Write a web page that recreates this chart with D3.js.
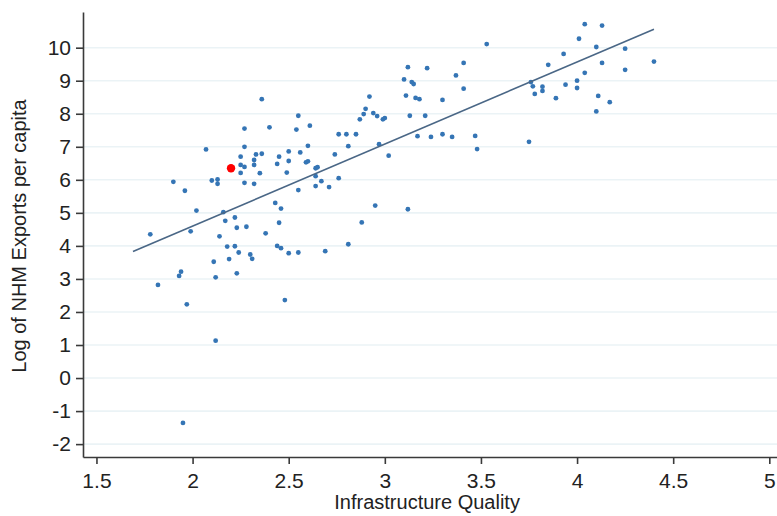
<!DOCTYPE html>
<html>
<head>
<meta charset="utf-8">
<script src="https://cdn.jsdelivr.net/npm/d3@7"></script>
<style>
  body { margin: 0; background: #fff; }
  #chart text { font-family: "Liberation Sans", Arial, sans-serif; fill: #222; }
</style>
</head>
<body>
<div id="chart"></div>
<script>
// country observations: infrastructure quality vs log NHM exports per capita
const infraQuality = [
  2.36, 2.55, 2.27, 2.40, 2.54, 2.61, 2.07, 2.27, 2.60, 2.25,
  2.33, 2.36, 2.45, 2.50, 2.56, 2.32, 2.50, 2.59, 2.60, 2.25,
  2.27, 2.32, 2.44, 2.25, 2.35, 2.49, 2.64, 2.65, 2.64, 1.90,
  2.10, 2.13, 2.13, 2.27, 2.32, 2.67, 2.64, 1.96, 2.55, 2.71,
  2.43, 2.46, 2.02, 2.16, 2.17, 2.22, 2.45, 2.23, 2.28, 1.78,
  1.99, 2.14, 2.38, 2.18, 2.22, 2.24, 2.44, 2.46, 2.50, 2.55,
  2.69, 2.19, 2.30, 2.31, 2.11, 1.94, 1.93, 2.12, 2.23, 1.82,
  1.97, 2.48, 2.12, 1.95,
  3.53, 3.12, 3.22, 3.41, 3.10, 3.14, 3.15, 3.37, 3.41, 2.92,
  3.11, 3.16, 3.18, 3.30, 2.90, 2.89, 2.87, 2.94, 2.96, 2.99,
  3.00, 3.13, 3.21, 2.76, 2.80, 2.85, 2.81, 2.97, 3.17, 3.24,
  3.30, 3.35, 3.47, 3.48, 2.74, 3.02, 2.76, 2.95, 3.12, 2.88,
  2.81,
  4.04, 4.13, 4.01, 4.10, 4.25, 3.93, 3.85, 4.13, 4.25, 4.40,
  4.04, 3.76, 3.77, 3.82, 3.82, 3.78, 3.94, 4.00, 4.00, 3.89,
  4.11, 4.17, 4.10, 3.75
];
const logExports = [
  8.44, 7.94, 7.55, 7.59, 7.52, 7.64, 6.92, 7.00, 7.03, 6.70,
  6.77, 6.79, 6.70, 6.86, 6.83, 6.60, 6.57, 6.53, 6.56, 6.45,
  6.39, 6.45, 6.48, 6.21, 6.20, 6.22, 6.35, 6.38, 6.11, 5.94,
  5.98, 6.01, 5.88, 5.91, 5.88, 5.96, 5.81, 5.67, 5.69, 5.78,
  5.30, 5.13, 5.07, 5.02, 4.76, 4.86, 4.70, 4.55, 4.58, 4.35,
  4.44, 4.29, 4.38, 3.98, 3.99, 3.80, 4.00, 3.93, 3.78, 3.80,
  3.84, 3.60, 3.74, 3.61, 3.52, 3.22, 3.09, 3.05, 3.17, 2.82,
  2.23, 2.36, 1.13, -1.36,
  10.11, 9.41, 9.38, 9.54, 9.04, 8.96, 8.90, 9.16, 8.76, 8.52,
  8.55, 8.48, 8.44, 8.42, 8.15, 7.99, 7.83, 8.02, 7.93, 7.83,
  7.87, 7.94, 7.94, 7.38, 7.38, 7.38, 7.02, 7.08, 7.32, 7.30,
  7.38, 7.30, 7.33, 6.93, 6.77, 6.73, 6.05, 5.22, 5.11, 4.71,
  4.05,
  10.71, 10.67, 10.27, 10.02, 9.97, 9.81, 9.48, 9.54, 9.33, 9.58,
  9.24, 8.96, 8.83, 8.82, 8.69, 8.60, 8.88, 9.00, 8.78, 8.47,
  8.54, 8.35, 8.07, 7.15
];
// highlighted country
const highlightX = [2.20];
const highlightY = [6.35];
// fitted line end points
const fitX = [1.69, 4.40];
const fitY = [3.83, 10.56];

const xTicks = [1.5, 2, 2.5, 3, 3.5, 4, 4.5, 5];
const yTicks = [-2, -1, 0, 1, 2, 3, 4, 5, 6, 7, 8, 9, 10];
const xLabel = "Infrastructure Quality";
const yLabel = "Log of NHM Exports per capita";

async function draw() {

//*************************1. Set up Measurement
  let dimensions = {
    width: 777,
    height: 516,
    margin: { top: 12, right: 0, bottom: 59, left: 83 }
  }
  dimensions.boundedWidth = dimensions.width - dimensions.margin.left - dimensions.margin.right
  dimensions.boundedHeight = dimensions.height - dimensions.margin.top - dimensions.margin.bottom

//*************************2. Draw Canvas
  const wrapper = d3.select("#chart")
    .append("svg")
    .attr("width", dimensions.width)
    .attr("height", dimensions.height)

  const bounds = wrapper.append("g")
    .attr("transform", `translate(${dimensions.margin.left},${dimensions.margin.top})`)

//*************************3. Data
  const dataset = infraQuality.map((x, i) => ({ x: x, y: logExports[i] }))
  const highlight = highlightX.map((x, i) => ({ x: x, y: highlightY[i] }))
  const fit = fitX.map((x, i) => ({ x: x, y: fitY[i] }))

  const xAccessor = d => d.x
  const yAccessor = d => d.y

//*************************4. Scales
  const xScale = d3.scaleLinear()
    .domain([1.43, 5.04])
    .range([0, dimensions.boundedWidth])

  const yScale = d3.scaleLinear()
    .domain([-2.39, 11.08])
    .range([dimensions.boundedHeight, 0])

//*************************5. Grid lines
  bounds.append("g")
    .selectAll("line")
    .data(yTicks)
    .join("line")
    .attr("x1", 0)
    .attr("x2", dimensions.boundedWidth)
    .attr("y1", d => yScale(d))
    .attr("y2", d => yScale(d))
    .attr("stroke", "#ebf3f6")
    .attr("stroke-width", 1.6)

//*************************6. Dots and fitted line
  bounds.append("g")
    .selectAll("circle")
    .data(dataset)
    .join("circle")
    .attr("cx", d => xScale(xAccessor(d)))
    .attr("cy", d => yScale(yAccessor(d)))
    .attr("r", 2.4)
    .attr("fill", "#3575b5")

  const lineGenerator = d3.line()
    .x(d => xScale(xAccessor(d)))
    .y(d => yScale(yAccessor(d)))

  bounds.append("path")
    .attr("d", lineGenerator(fit))
    .attr("fill", "none")
    .attr("stroke", "#4a6786")
    .attr("stroke-width", 1.6)

  bounds.append("g")
    .selectAll("circle")
    .data(highlight)
    .join("circle")
    .attr("cx", d => xScale(xAccessor(d)))
    .attr("cy", d => yScale(yAccessor(d)))
    .attr("r", 4.2)
    .attr("fill", "#ff0000")

//*************************7. Axes
  // plain hyphen for negatives, like the original
  const tickFormat = d => String(d)

  const xAxisGenerator = d3.axisBottom()
    .scale(xScale)
    .tickValues(xTicks)
    .tickFormat(tickFormat)
    .tickSize(7)
    .tickPadding(9)
    .tickSizeOuter(0)

  const yAxisGenerator = d3.axisLeft()
    .scale(yScale)
    .tickValues(yTicks)
    .tickFormat(tickFormat)
    .tickSize(7)
    .tickPadding(5)
    .tickSizeOuter(0)

  const xAxis = bounds.append("g")
    .call(xAxisGenerator)
    .attr("transform", `translate(0,${dimensions.boundedHeight})`)

  const yAxis = bounds.append("g")
    .call(yAxisGenerator)

  wrapper.selectAll(".domain, .tick line")
    .attr("stroke", "#3a3a3a")
    .attr("stroke-width", 1.6)
  wrapper.selectAll(".tick text")
    .style("font-size", "21px")
    .attr("fill", "#222")

  bounds.append("text")
    .attr("x", xScale(3.22))
    .attr("y", dimensions.boundedHeight + 52)
    .attr("text-anchor", "middle")
    .style("font-size", "20px")
    .text(xLabel)

  wrapper.append("text")
    .attr("transform", `translate(26,${yScale(4.3) + dimensions.margin.top}) rotate(-90)`)
    .attr("text-anchor", "middle")
    .style("font-size", "20px")
    .text(yLabel)
}
draw()
</script>
</body>
</html>
